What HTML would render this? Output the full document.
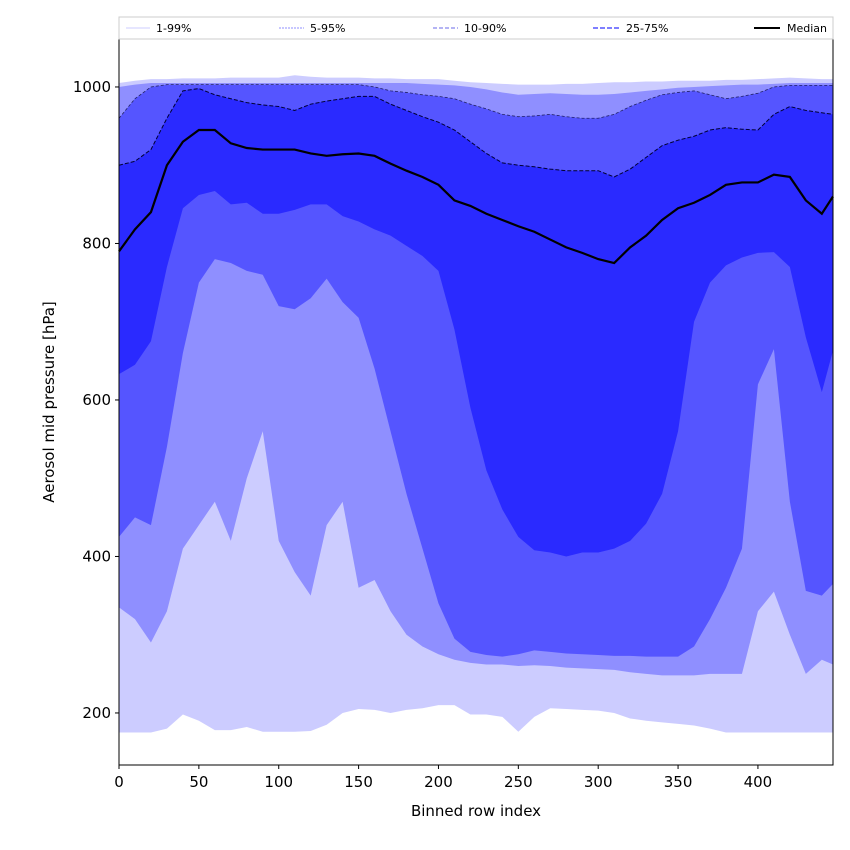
<!DOCTYPE html>
<html><head><meta charset="utf-8"><style>
html,body{margin:0;padding:0;background:#fff;width:850px;height:850px;overflow:hidden}
svg{font-family:"DejaVu Sans","Liberation Sans",sans-serif}
</style></head><body>
<svg id="chart" width="850" height="850" viewBox="0 0 850 850" xmlns="http://www.w3.org/2000/svg">
<g id="bands"></g>
<g id="lines"></g>
<rect x="119" y="39" width="714" height="726" fill="none" stroke="#000" stroke-width="1"/>
<g id="xaxis"></g>
<g id="yaxis"></g>
<text x="476" y="816" font-size="15" text-anchor="middle">Binned row index</text>
<text transform="translate(54,402) rotate(-90)" font-size="15" text-anchor="middle">Aerosol mid pressure [hPa]</text>
<g>
<rect x="119" y="17" width="714" height="22" fill="#fff" stroke="#ccc" stroke-width="1"/>
<g><line x1="126" y1="28" x2="150" y2="28" stroke="#ccccff" stroke-width="1"/><text x="156" y="32" font-size="11">1-99%</text></g>
<g><line x1="279" y1="28" x2="304" y2="28" stroke="#8f8fff" stroke-width="1" stroke-dasharray="2,1"/><text x="310" y="32" font-size="11">5-95%</text></g>
<g><line x1="433" y1="28" x2="458" y2="28" stroke="#8888ee" stroke-width="1.2" stroke-dasharray="4,2"/><text x="464" y="32" font-size="11">10-90%</text></g>
<g><line x1="593" y1="28" x2="619" y2="28" stroke="#5555ff" stroke-width="1.5" stroke-dasharray="5,2"/><text x="626" y="32" font-size="11">25-75%</text></g>
<g><line x1="754" y1="28" x2="780" y2="28" stroke="#000" stroke-width="2"/><text x="787" y="32" font-size="11">Median</text></g>
</g>
</svg>
<script>
const xs=[0,10,20,30,40,50,60,70,80,90,100,110,120,130,140,150,160,170,180,190,200,210,220,230,240,250,260,270,280,290,300,310,320,330,340,350,360,370,380,390,400,410,420,430,440,447];
const p1=[175,175,175,180,198,190,178,178,182,176,176,176,177,185,200,205,204,200,204,206,210,210,198,198,195,176,195,206,205,204,203,200,193,190,188,186,184,180,175,175,175,175,175,175,175,175];
const p5=[335,320,290,330,410,440,470,420,500,560,420,380,350,440,470,360,370,330,300,285,275,268,264,262,262,260,261,260,258,257,256,255,252,250,248,248,248,250,250,250,330,355,300,250,268,262];
const p10=[425,450,440,540,660,750,780,775,765,760,720,716,730,755,725,705,640,560,480,410,340,295,278,274,272,275,280,278,276,275,274,273,273,272,272,272,285,320,360,410,620,665,470,356,350,365];
const p25=[633,645,675,770,845,862,867,850,852,838,838,843,850,850,835,828,818,810,797,784,765,690,590,510,460,425,408,405,400,405,405,410,420,442,480,560,700,750,772,782,788,789,770,680,610,663];
const med=[790,818,840,900,930,945,945,928,922,920,920,920,915,912,914,915,912,902,893,885,875,855,848,838,830,822,815,805,795,788,780,775,795,810,830,845,852,862,875,878,878,888,885,855,838,860];
const p75=[900,905,920,960,995,998,990,985,980,977,975,970,978,982,985,988,988,978,970,962,955,945,930,915,903,900,898,895,893,893,893,885,895,910,925,932,937,945,948,946,945,965,975,970,967,965];
const p90=[960,985,1000,1003,1003,1003,1003,1003,1003,1003,1003,1003,1003,1003,1003,1003,1000,995,993,990,988,985,978,972,965,962,963,965,962,960,960,965,975,983,990,993,995,990,985,988,992,1000,1002,1002,1002,1002];
const p95=[1000,1003,1005,1005,1005,1005,1005,1005,1005,1005,1005,1005,1005,1005,1005,1005,1005,1005,1005,1004,1003,1002,1000,997,993,990,991,992,991,990,990,991,993,995,997,999,1000,1001,1002,1003,1003,1004,1005,1005,1005,1005];
const p99=[1005,1008,1010,1010,1011,1011,1011,1012,1012,1012,1012,1015,1013,1012,1012,1012,1011,1011,1010,1010,1010,1008,1006,1005,1004,1003,1003,1003,1004,1004,1005,1006,1006,1007,1007,1008,1008,1008,1009,1009,1010,1011,1012,1011,1010,1010];
const xTicks=[0,50,100,150,200,250,300,350,400];
const yTicks=[200,400,600,800,1000];

const X0=119,X1=833,Y0=39,Y1=765,XMAX=447,PMIN=133.5,PMAX=1061.3;
const sx=v=>X0+v*(X1-X0)/XMAX;
const sy=p=>Y1-(p-PMIN)*(Y1-Y0)/(PMAX-PMIN);
const NS='http://www.w3.org/2000/svg';
function bandPath(lo,hi){
  let d='M'+sx(xs[0])+','+sy(lo[0]);
  for(let i=1;i<xs.length;i++)d+='L'+sx(xs[i])+','+sy(lo[i]);
  for(let i=xs.length-1;i>=0;i--)d+='L'+sx(xs[i])+','+sy(hi[i]);
  return d+'Z';
}
function linePath(arr){
  let d='';
  for(let i=0;i<xs.length;i++)d+=(i?'L':'M')+sx(xs[i])+','+sy(arr[i]);
  return d;
}
const bands=document.getElementById('bands');
[[p1,p99,'#ccccff','band-1-99'],[p5,p95,'#8f8fff','band-5-95'],[p10,p90,'#5555ff','band-10-90'],[p25,p75,'#2a2aff','band-25-75']].forEach(b=>{
  const el=document.createElementNS(NS,'path');
  el.setAttribute('d',bandPath(b[0],b[1]));
  el.setAttribute('fill',b[2]);
  
  
  bands.appendChild(el);
});
const lines=document.getElementById('lines');
[[p90,'#222266',0.8,'3,2','p90-line'],[p75,'#000033',1,'4,2','p75-line'],[med,'#000',2.2,'','median-line']].forEach(l=>{
  const el=document.createElementNS(NS,'path');
  el.setAttribute('d',linePath(l[0]));
  el.setAttribute('fill','none');
  el.setAttribute('stroke',l[1]);
  el.setAttribute('stroke-width',l[2]);
  if(l[3])el.setAttribute('stroke-dasharray',l[3]);
  
  
  lines.appendChild(el);
});
const xa=document.getElementById('xaxis');
xTicks.forEach(t=>{
  const ln=document.createElementNS(NS,'line');
  ln.setAttribute('x1',sx(t));ln.setAttribute('x2',sx(t));
  ln.setAttribute('y1',Y1);ln.setAttribute('y2',Y1+4);
  ln.setAttribute('stroke','#000');
  
  
  xa.appendChild(ln);
  const tx=document.createElementNS(NS,'text');
  tx.setAttribute('x',sx(t));tx.setAttribute('y',Y1+22);
  tx.setAttribute('font-size','15');tx.setAttribute('text-anchor','middle');
  tx.textContent=t;
  
  
  xa.appendChild(tx);
});
const ya=document.getElementById('yaxis');
yTicks.forEach(t=>{
  const ln=document.createElementNS(NS,'line');
  ln.setAttribute('x1',X0-4);ln.setAttribute('x2',X0);
  ln.setAttribute('y1',sy(t));ln.setAttribute('y2',sy(t));
  ln.setAttribute('stroke','#000');
  
  
  ya.appendChild(ln);
  const tx=document.createElementNS(NS,'text');
  tx.setAttribute('x',X0-8);tx.setAttribute('y',sy(t)+5);
  tx.setAttribute('font-size','15');tx.setAttribute('text-anchor','end');
  tx.textContent=t;
  
  
  ya.appendChild(tx);
});
</script>
</body></html>
